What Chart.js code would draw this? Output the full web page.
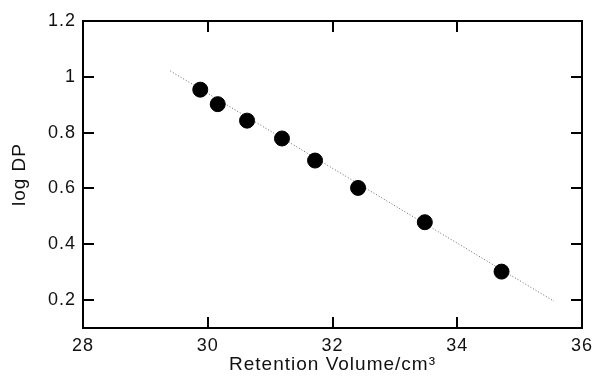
<!DOCTYPE html>
<html>
<head>
<meta charset="utf-8">
<script src="https://cdn.jsdelivr.net/npm/chart.js@4.4.1/dist/chart.umd.min.js"></script>
<style>
  html, body { margin: 0; padding: 0; background: #fff; }
  #wrap { width: 595px; height: 381px; }
</style>
</head>
<body>
<div id="wrap"><canvas id="chart"></canvas></div>
<script>
// measured points
const retentionVolume = [29.88, 30.16, 30.63, 31.19, 31.72, 32.41, 33.48, 34.71];
const logDP = [0.954, 0.902, 0.843, 0.779, 0.700, 0.602, 0.479, 0.302];

// fitted line end points
const fitX = [29.4, 35.55];
const fitY = [1.021, 0.196];

const xTicks = [28, 30, 32, 34, 36];
const yTicks = [0.2, 0.4, 0.6, 0.8, 1, 1.2];

const family = "'Liberation Sans', Arial, sans-serif";
const tickFont = { family, size: 18 };
const titleFont = { family, size: 19 };

// the scanned lettering is a bit wider than Liberation Sans
const spacing = {
  id: 'spacing',
  beforeUpdate(chart) { chart.ctx.letterSpacing = '1px'; },
  beforeDraw(chart) { chart.ctx.letterSpacing = '1px'; }
};

// inward tick marks on all four sides + frame
const frameTicks = {
  id: 'frameTicks',
  afterDraw(chart) {
    const { ctx, chartArea: a, scales } = chart;
    const len = 11;
    ctx.save();
    ctx.strokeStyle = '#000';
    ctx.lineWidth = 2;
    ctx.strokeRect(a.left, a.top, a.right - a.left, a.bottom - a.top);
    ctx.beginPath();
    xTicks.forEach(v => {
      const px = Math.round(scales.x.getPixelForValue(v));
      ctx.moveTo(px, a.bottom); ctx.lineTo(px, a.bottom - len);
      ctx.moveTo(px, a.top); ctx.lineTo(px, a.top + len);
    });
    yTicks.forEach(v => {
      const py = Math.round(scales.y.getPixelForValue(v));
      ctx.moveTo(a.left, py); ctx.lineTo(a.left + len, py);
      ctx.moveTo(a.right, py); ctx.lineTo(a.right - len, py);
    });
    ctx.stroke();
    ctx.restore();
  }
};

new Chart(document.getElementById('chart'), {
  type: 'scatter',
  data: {
    datasets: [
      {
        data: fitX.map((x, i) => ({ x, y: fitY[i] })),
        showLine: true,
        borderColor: '#666',
        borderWidth: 1,
        borderDash: [1, 2],
        pointRadius: 0,
        order: 2
      },
      {
        data: retentionVolume.map((x, i) => ({ x, y: logDP[i] })),
        backgroundColor: '#000',
        borderColor: '#000',
        pointRadius: 7.5,
        pointHoverRadius: 7.5,
        order: 1
      }
    ]
  },
  options: {
    responsive: true,
    maintainAspectRatio: false,
    animation: false,
    events: [],
    layout: { padding: { left: 0, right: 13, top: 21, bottom: 0 } },
    plugins: { legend: { display: false }, tooltip: { enabled: false } },
    scales: {
      x: {
        type: 'linear',
        min: 28,
        max: 36,
        afterBuildTicks: s => { s.ticks = xTicks.map(v => ({ value: v })); },
        afterFit: s => { s.height = 53; s.paddingRight = 0; s.paddingLeft = 0; },
        grid: { display: false, drawTicks: false },
        border: { display: false },
        ticks: { color: '#111', font: tickFont, padding: 7 },
        title: {
          display: true,
          text: 'Retention Volume/cm³',
          color: '#111',
          font: titleFont,
          padding: { top: 0, bottom: 5 }
        }
      },
      y: {
        type: 'linear',
        min: 0.1,
        max: 1.2,
        afterBuildTicks: s => { s.ticks = yTicks.map(v => ({ value: v })); },
        afterFit: s => { s.width = 83; s.paddingTop = 0; s.paddingBottom = 0; },
        grid: { display: false, drawTicks: false },
        border: { display: false },
        ticks: { color: '#111', font: tickFont, padding: 7, callback: v => String(v) },
        title: {
          display: true,
          text: 'log DP',
          color: '#111',
          font: titleFont,
          padding: { top: 8, bottom: 0 }
        }
      }
    }
  },
  plugins: [spacing, frameTicks]
});
</script>
</body>
</html>
